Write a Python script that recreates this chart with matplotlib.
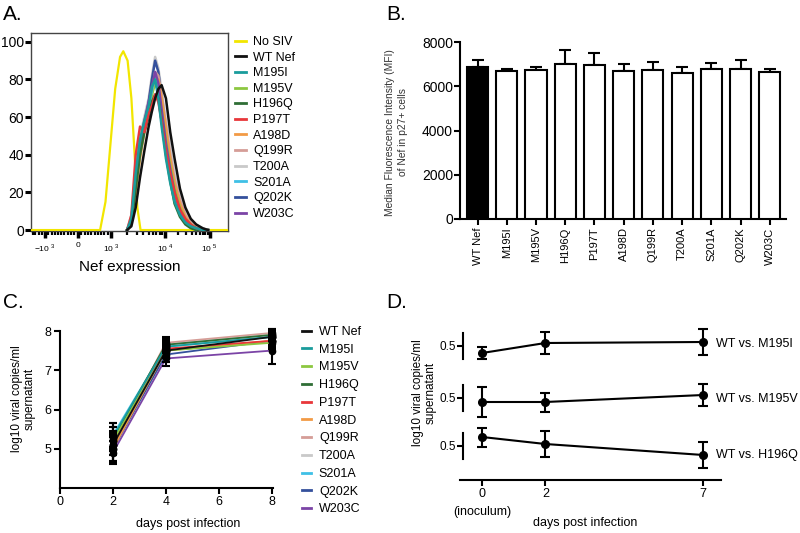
import numpy as np
import matplotlib
matplotlib.use("Agg")
import matplotlib.pyplot as plt

plt.rcParams['font.family'] = ['Liberation Sans', 'DejaVu Sans']
plt.rcParams['mathtext.fontset'] = 'custom'
plt.rcParams['mathtext.rm'] = 'Liberation Sans'

# ---------------- data ----------------
variants = ["WT Nef", "M195I", "M195V", "H196Q", "P197T", "A198D",
            "Q199R", "T200A", "S201A", "Q202K", "W203C"]
colors = ["#111111", "#1a9c9c", "#8cc740", "#2f6e35", "#e8373a", "#f29a45",
          "#d59d97", "#c9c9c9", "#3fc0e6", "#34509c", "#7b44a6"]

# Panel A: flow histograms (x in display decades; y = % of max)
nosiv_x = [1.52, 2.80, 2.90, 2.99, 3.08, 3.17, 3.23, 3.31, 3.38, 3.44, 3.49, 3.55, 5.17]
nosiv_y = [0, 0, 15, 45, 75, 92, 95, 90, 70, 40, 12, 0, 0]
hist_x = [3.30, 3.38, 3.46, 3.54, 3.62, 3.70, 3.76, 3.82, 3.88, 3.94,
          4.02, 4.10, 4.18, 4.28, 4.38, 4.48, 4.58, 4.70, 4.80]
hist_WT    = [0, 2, 12, 28, 42, 55, 63, 70, 75, 77, 70, 52, 38, 22, 12, 6, 3, 1, 0]
hist_M195I = [0, 6, 30, 48, 58, 66, 76, 80, 70, 55, 38, 25, 15, 8, 4, 2, 1, 0, 0]
hist_M195V = [0, 5, 26, 44, 55, 64, 72, 78, 74, 64, 48, 34, 22, 12, 6, 3, 1, 0, 0]
hist_H196Q = [0, 4, 22, 40, 52, 60, 68, 72, 70, 58, 40, 26, 14, 7, 3, 1, 0, 0, 0]
hist_P197T = [0, 8, 40, 55, 52, 62, 66, 72, 68, 58, 42, 30, 20, 11, 6, 3, 1, 0, 0]
hist_A198D = [0, 3, 20, 38, 52, 62, 72, 80, 80, 70, 54, 38, 25, 14, 7, 3, 1, 0, 0]
hist_Q199R = [0, 5, 25, 44, 57, 66, 74, 84, 82, 72, 56, 40, 27, 16, 8, 4, 2, 0, 0]
hist_T200A = [0, 8, 32, 50, 60, 70, 82, 92, 86, 74, 58, 44, 30, 18, 10, 5, 2, 1, 0]
hist_S201A = [0, 6, 28, 46, 56, 66, 74, 82, 76, 62, 44, 30, 18, 9, 4, 2, 1, 0, 0]
hist_Q202K = [0, 5, 24, 42, 56, 68, 80, 90, 84, 70, 52, 36, 22, 12, 6, 3, 1, 0, 0]
hist_W203C = [0, 5, 28, 46, 58, 68, 76, 84, 78, 64, 46, 32, 20, 10, 5, 2, 1, 0, 0]
hists = [hist_WT, hist_M195I, hist_M195V, hist_H196Q, hist_P197T, hist_A198D,
         hist_Q199R, hist_T200A, hist_S201A, hist_Q202K, hist_W203C]
a_tick_pos = [1.78, 2.39, 3.0, 4.0, 4.83]
a_tick_lab = [r"$-10^{\ 3}$", "0", r"$10^{\ 3}$", r"$10^{\ 4}$", r"$10^{\ 5}$"]

# Panel B: MFI
mfi = [6850, 6700, 6730, 7020, 6950, 6700, 6730, 6620, 6770, 6780, 6650]
mfi_err = [350, 80, 130, 600, 550, 300, 370, 240, 260, 420, 150]

# Panel C: replication kinetics
days_c = [2, 4, 8]
vl_WT    = [5.10, 7.50, 7.85]
vl_M195I = [5.30, 7.60, 7.85]
vl_M195V = [5.20, 7.50, 7.70]
vl_H196Q = [5.25, 7.65, 7.90]
vl_P197T = [5.10, 7.55, 7.75]
vl_A198D = [5.00, 7.50, 7.75]
vl_Q199R = [5.10, 7.70, 7.95]
vl_T200A = [5.20, 7.65, 7.90]
vl_S201A = [5.35, 7.60, 7.85]
vl_Q202K = [5.00, 7.40, 7.75]
vl_W203C = [4.90, 7.30, 7.50]
vls = [vl_WT, vl_M195I, vl_M195V, vl_H196Q, vl_P197T, vl_A198D,
       vl_Q199R, vl_T200A, vl_S201A, vl_Q202K, vl_W203C]
err_WT    = [0.45, 0.30, 0.20]
err_M195I = [0.35, 0.15, 0.10]
err_M195V = [0.25, 0.15, 0.10]
err_H196Q = [0.30, 0.15, 0.10]
err_P197T = [0.25, 0.20, 0.15]
err_A198D = [0.30, 0.20, 0.15]
err_Q199R = [0.25, 0.15, 0.10]
err_T200A = [0.20, 0.15, 0.10]
err_S201A = [0.30, 0.15, 0.10]
err_Q202K = [0.30, 0.20, 0.20]
err_W203C = [0.30, 0.20, 0.35]
errs = [err_WT, err_M195I, err_M195V, err_H196Q, err_P197T, err_A198D,
        err_Q199R, err_T200A, err_S201A, err_Q202K, err_W203C]

# Panel D: competition (WT vs mutant)
days_d = [0, 2, 7]
comp_labels = ["WT vs. M195I", "WT vs. M195V", "WT vs. H196Q"]
comp_M195I = [0.43, 0.53, 0.54]
comp_M195V = [0.46, 0.46, 0.53]
comp_H196Q = [0.59, 0.52, 0.41]
comp_err_M195I = [0.06, 0.11, 0.13]
comp_err_M195V = [0.15, 0.095, 0.11]
comp_err_H196Q = [0.095, 0.13, 0.13]
comps = [comp_M195I, comp_M195V, comp_H196Q]
comp_errs = [comp_err_M195I, comp_err_M195V, comp_err_H196Q]

# ---------------- figure ----------------
W, H = 800, 533
fig = plt.figure(figsize=(8, 5.33), dpi=100)

def fx(px):
    return px / W

def fy(py):
    return 1 - py / H

# ---- Panel A ----
axA = fig.add_axes([fx(31), fy(231), fx(197), 198 / H])
axA.plot(nosiv_x, nosiv_y, color="#f2e600", lw=1.6, label="No SIV", zorder=3)
order = [7, 9, 6, 5, 2, 8, 10, 3, 4, 1, 0]
lines = {}
for i in order:
    ln, = axA.plot(hist_x, hists[i], color=colors[i], lw=1.8, label=variants[i], zorder=4)
    lines[i] = ln
axA.set_xlim(1.52, 5.17)
axA.set_ylim(-0.5, 104.7)
for s in axA.spines.values():
    s.set_color("#444444")
    s.set_linewidth(1.0)
axA.set_yticks([0, 20, 40, 60, 80, 100])
axA.tick_params(axis='y', labelsize=10, length=4, width=2.2, direction='out', pad=1)
axA.set_xticks(a_tick_pos)
axA.set_xticklabels(a_tick_lab, fontsize=6)
minor = [1.55, 1.60, 1.66, 1.72, 1.84, 1.90, 1.96, 2.02, 2.08, 2.14, 2.20, 2.26, 2.32,
         2.45, 2.52, 2.58, 2.64, 2.70, 2.76, 2.82, 2.88, 2.94]
minor += [3 + np.log10(k) for k in range(2, 10)]
minor += [4 + 0.83 * np.log10(k) for k in range(2, 10)]
axA.set_xticks(minor, minor=True)
axA.tick_params(axis='x', which='major', length=5, width=2.5, direction='out', pad=3)
axA.tick_params(axis='x', which='minor', length=3, width=1.6, direction='out')
axA.set_xlabel("Nef expression", fontsize=11, labelpad=2)
axA.xaxis.set_label_coords(0.5, -0.145)
handles = [axA.lines[0]] + [lines[i] for i in range(11)]
labels = ["No SIV"] + variants
legA = fig.legend(handles, labels, loc='upper left', bbox_to_anchor=(fx(235), fy(36)),
                  frameon=False, fontsize=9, handlelength=0.9, handletextpad=0.55,
                  labelspacing=0.29, borderpad=0, borderaxespad=0)
for h in legA.legend_handles:
    h.set_linewidth(2.0)

# ---- Panel B ----
axB = fig.add_axes([fx(460), fy(219), fx(326), 177 / H])
xb = np.arange(len(variants))
fills = ["black"] + ["white"] * (len(variants) - 1)
axB.bar(xb, mfi, width=0.72, color=fills, edgecolor="black", linewidth=1.5, zorder=3)
axB.errorbar(xb, mfi, yerr=[np.zeros(len(mfi)), mfi_err], fmt='none', ecolor='black',
             elinewidth=1.5, capsize=4, capthick=1.5, zorder=2)
axB.set_xlim(-0.6, 10.55)
axB.set_ylim(0, 8000)
axB.set_yticks([0, 2000, 4000, 6000, 8000])
axB.set_xticks(xb)
axB.set_xticklabels(variants, rotation=90, fontsize=8)
axB.spines['top'].set_visible(False)
axB.spines['right'].set_visible(False)
axB.spines['left'].set_linewidth(1.5)
axB.spines['bottom'].set_linewidth(1.5)
axB.tick_params(axis='y', labelsize=10, length=4, width=1.5, pad=1)
axB.tick_params(axis='x', length=4, width=1.5, pad=2)
axB.set_ylabel("Median Fluorescence Intensity (MFI)\nof Nef in p27+ cells", fontsize=7.4,
               color="#333333", linespacing=1.35)
axB.yaxis.set_label_coords(-0.16, 0.49)

# ---- Panel C ----
axC = fig.add_axes([fx(60), fy(488), fx(213), 157 / H])
for i in range(len(variants) - 1, -1, -1):
    axC.plot(days_c, vls[i], color=colors[i], lw=1.3, zorder=3)
for i in range(len(variants)):
    axC.errorbar(days_c, vls[i], yerr=errs[i], fmt='o', color='black', ms=4.5,
                 ecolor='black', elinewidth=1.5, capsize=3, capthick=1.5, zorder=4,
                 clip_on=False)
axC.set_xlim(0, 8.05)
axC.set_ylim(4, 8)
axC.set_xticks([0, 2, 4, 6, 8])
axC.set_yticks([5, 6, 7, 8])
axC.spines['top'].set_visible(False)
axC.spines['right'].set_visible(False)
axC.spines['left'].set_linewidth(1.5)
axC.spines['bottom'].set_linewidth(1.5)
axC.tick_params(labelsize=9, length=4, width=1.5, pad=2)
axC.set_xlabel("days post infection", fontsize=9)
axC.xaxis.set_label_coords(0.6, -0.19)
axC.set_ylabel("log10 viral copies/ml\nsupernatant", fontsize=8.5, linespacing=1.1)
axC.yaxis.set_label_coords(-0.115, 0.57)
legC = fig.legend([plt.Line2D([], [], color=c, lw=2) for c in colors], variants,
                  loc='upper left', bbox_to_anchor=(fx(302), fy(326)), frameon=False,
                  fontsize=9, handlelength=0.75, handletextpad=0.6, labelspacing=0.46,
                  borderpad=0, borderaxespad=0)

# ---- Panel D ----
axD = fig.add_axes([fx(460), fy(480), fx(261), 154 / H])
axD.set_xlim(-0.70, 7.56)
axD.set_ylim(0, 1)
axD.patch.set_alpha(0)
for s in ['top', 'right', 'left']:
    axD.spines[s].set_visible(False)
axD.spines['bottom'].set_linewidth(1.5)
axD.set_yticks([])
axD.set_xticks(days_d)
axD.tick_params(axis='x', labelsize=9, length=4, width=1.5, pad=2)
axD.set_xlabel("days post infection", fontsize=9)
axD.xaxis.set_label_coords(0.48, -0.24)
axD.text(0, -0.205, "(inoculum)", transform=axD.get_xaxis_transform(), ha='center',
         va='center', fontsize=9)

row_bottoms = [366, 418, 466]
label_dy = [-0.02, -0.04, 0.0]
for k in range(3):
    ax = fig.add_axes([fx(460), fy(row_bottoms[k]), fx(261), 40 / H])
    ax.patch.set_alpha(0)
    ax.errorbar(days_d, comps[k], yerr=comp_errs[k], fmt='-o', color='black', lw=1.5,
                ms=5.5, elinewidth=1.5, capsize=3.5, capthick=1.5, clip_on=False)
    ax.set_xlim(-0.70, 7.56)
    ax.set_ylim(0.3, 0.7)
    for s in ['top', 'right', 'bottom']:
        ax.spines[s].set_visible(False)
    ax.spines['left'].set_position(('axes', 3 / 261))
    ax.spines['left'].set_bounds(0.37, 0.63)
    ax.spines['left'].set_linewidth(1.5)
    ax.set_xticks([])
    ax.set_yticks([0.5])
    ax.set_yticklabels(["0.5"])
    ax.tick_params(axis='y', labelsize=8.5, length=4, width=1.5, pad=1)
    ax.text(7.4, comps[k][2] + label_dy[k], comp_labels[k], fontsize=9,
            va='center', ha='left')
fig.text(fx(424), fy(393), "log10 viral copies/ml\nsupernatant", rotation=90,
         fontsize=8.5, ha='center', va='center', linespacing=1.1)

# ---- panel letters ----
for lab, x, y in [("A.", 3, 15), ("B.", 386, 15), ("C.", 3, 302), ("D.", 386, 302)]:
    fig.text(fx(x), fy(y), lab, fontsize=15, ha='left', va='center')

fig.savefig("out.png", dpi=100)
